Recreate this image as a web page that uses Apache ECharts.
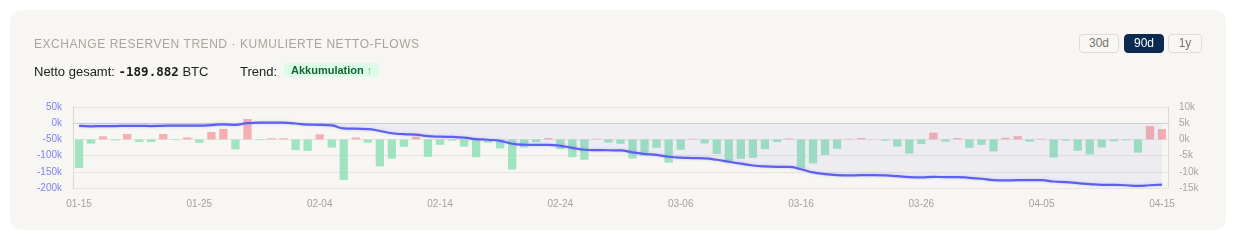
<!DOCTYPE html>
<html>
<head>
<meta charset="utf-8">
<script src="https://cdn.jsdelivr.net/npm/echarts@6/dist/echarts.min.js"></script>
<style>
  html, body { margin:0; padding:0; background:#ffffff; width:1236px; height:240px; overflow:hidden; }
  body { font-family: "Liberation Sans", Arial, sans-serif; position:relative; }
  #card { position:absolute; left:10px; top:10px; width:1216px; height:220px; background:#f7f6f2; border-radius:12px; }
  #chart { position:absolute; left:0; top:0; width:1236px; height:240px; }
  .t { position:absolute; white-space:nowrap; }
  #title { left:34px; top:37.5px; font-size:12px; line-height:13px; letter-spacing:0.55px; color:#a9a49d; }
  #netto { left:34px; top:65px; font-size:13px; line-height:13px; color:#222; }
  #netto b { font-family:"DejaVu Sans Mono", "Liberation Mono", monospace; font-size:12.5px; font-weight:bold; color:#1a1a1a; }
  #trend { left:240px; top:65px; font-size:13px; line-height:13px; color:#222; }
  #badge { left:284px; top:62.5px; height:14.5px; line-height:14.5px; padding:0 7px; font-size:11px; font-weight:bold; color:#166534; background:#dcfce7; border-radius:3px; }
  #badge span { color:#6fbf8a; font-weight:normal; }
  .btn { position:absolute; top:34px; height:19px; box-sizing:border-box; border:1px solid #dfdcd5; border-radius:4px; font-size:12px; line-height:17px; text-align:center; color:#77726c; background:#f8f7f4; }
  .btn.on { background:#0b2a50; border-color:#0b2a50; color:#ffffff; }
</style>
</head>
<body>
<div id="card"></div>
<div id="chart"></div>
<div class="t" id="title">EXCHANGE RESERVEN TREND · KUMULIERTE NETTO-FLOWS</div>
<div class="t" id="netto">Netto gesamt: <b>-189.882</b> BTC</div>
<div class="t" id="trend">Trend:</div>
<div class="t" id="badge">Akkumulation <span>↑</span></div>
<div class="btn" style="left:1079px;width:40px;">30d</div>
<div class="btn on" style="left:1124px;width:40px;">90d</div>
<div class="btn" style="left:1168px;width:34px;">1y</div>
<script>
// Categories (days)
const dates = [
  '01-15','01-16','01-17','01-18','01-19','01-20','01-21','01-22','01-23','01-24',
  '01-25','01-26','01-27','01-28','01-29','01-30','01-31','02-01','02-02','02-03',
  '02-04','02-05','02-06','02-07','02-08','02-09','02-10','02-11','02-12','02-13',
  '02-14','02-15','02-16','02-17','02-18','02-19','02-20','02-21','02-22','02-23',
  '02-24','02-25','02-26','02-27','02-28','03-01','03-02','03-03','03-04','03-05',
  '03-06','03-07','03-08','03-09','03-10','03-11','03-12','03-13','03-14','03-15',
  '03-16','03-17','03-18','03-19','03-20','03-21','03-22','03-23','03-24','03-25',
  '03-26','03-27','03-28','03-29','03-30','03-31','04-01','04-02','04-03','04-04',
  '04-05','04-06','04-07','04-08','04-09','04-10','04-11','04-12','04-13','04-14',
  '04-15'
];
// Daily net flows (k, right axis)
const dailyFlows = [
  -8.8, -1.3, 0.95, -0.3, 1.65, -0.8, -0.8, 1.65, -0.2, 0.6,
  -1.05, 2.3, 3.25, -3.1, 6.3, -0.25, 0.35, 0.35, -3.3, -3.55,
  1.6, -2.5, -12.5, 0.6, -1.0, -8.3, -5.9, -2.3, 0.85, -5.4,
  -1.7, -0.4, -2.2, -5.5, -1.0, -2.8, -9.3, -2.5, -0.8, 0.4,
  -3.0, -5.5, -6.3, 0.2, -1.0, -1.35, -5.9, -5.1, -2.6, -7.2,
  -3.2, 0.2, -1.25, -4.5, -6.9, -6.0, -5.7, -3.0, -0.8, 0.3,
  -9.0, -7.4, -4.8, -2.9, 0.2, 0.4, 0.1, -0.4, -2.2, -4.4,
  -1.45, 2.1, -0.7, 0.4, -2.6, -1.7, -3.7, 0.5, 1.0, -0.7,
  0.2, -5.6, -0.4, -3.5, -4.6, -2.5, -0.6, -0.3, -4.1, 4.1,
  3.2
];
// Cumulative net flow (k, left axis)
const cumulative = [
  -8.5, -9.5, -9.0, -9.0, -8.0, -8.0, -9.0, -8.0, -7.5, -7.5,
  -7.5, -6.0, -3.5, -5.0, 0.5, 1.5, 1.5, 1.5, -1.0, -4.5,
  -5.0, -7.0, -16.0, -17.0, -18.0, -24.0, -31.0, -34.0, -35.5, -40.0,
  -41.5, -42.5, -44.5, -49.0, -51.0, -54.5, -63.5, -66.5, -67.0, -67.0,
  -70.0, -76.0, -82.0, -83.0, -83.5, -84.0, -89.9, -95.0, -98.0, -103.5,
  -106.5, -107.5, -108.6, -112.7, -119.0, -125.0, -130.5, -133.5, -134.5, -134.5,
  -142.0, -152.0, -157.0, -160.0, -161.0, -160.5, -160.5, -161.0, -163.5, -166.5,
  -167.5, -165.5, -166.5, -166.5, -168.5, -171.5, -175.5, -176.5, -176.0, -176.0,
  -176.0, -180.0, -182.0, -185.0, -188.0, -190.2, -190.5, -191.5, -193.5, -191.5,
  -189.882
];
const leftTicks = { min: -200, max: 50, interval: 50 };
const rightTicks = { min: -15, max: 10, interval: 5 };

const FONT = '"Liberation Sans", Arial, sans-serif';
const chart = echarts.init(document.getElementById('chart'), null, { renderer: 'canvas' });
chart.setOption({
  animation: false,
  backgroundColor: 'transparent',
  grid: { left: 73, right: 68, top: 107, bottom: 52 },
  xAxis: {
    type: 'category',
    data: dates,
    boundaryGap: true,
    axisLine: { show: true, lineStyle: { color: '#d6d3cc' } },
    axisTick: { show: false },
    axisLabel: { interval: 9, color: '#a8a29e', fontSize: 10, fontFamily: FONT, margin: 11 },
    splitLine: { show: false }
  },
  yAxis: [
    {
      type: 'value', position: 'left',
      min: leftTicks.min, max: leftTicks.max, interval: leftTicks.interval,
      axisLine: { show: true, lineStyle: { color: '#dcd9d2' } },
      axisTick: { show: false },
      axisLabel: { formatter: '{value}k', color: '#7f83f3', fontSize: 10, fontFamily: FONT, margin: 11 },
      splitLine: { show: true, lineStyle: { color: '#e8e5df', width: 1 } }
    },
    {
      type: 'value', position: 'right',
      min: rightTicks.min, max: rightTicks.max, interval: rightTicks.interval,
      axisLine: { show: true, lineStyle: { color: '#dcd9d2' } },
      axisTick: { show: false },
      axisLabel: { formatter: '{value}k', color: '#aaa59f', fontSize: 10, fontFamily: FONT, margin: 11 },
      splitLine: { show: false }
    }
  ],
  series: [
    {
      type: 'bar',
      yAxisIndex: 1,
      data: dailyFlows,
      barCategoryGap: '31%',
      itemStyle: {
        color: function (p) { return p.value >= 0 ? '#f4b0b1' : '#a0e3c1'; }
      }
    },
    {
      type: 'line',
      yAxisIndex: 0,
      data: cumulative,
      smooth: true,
      showSymbol: false,
      lineStyle: { color: '#5c5ff0', width: 2.2, shadowColor: 'rgba(99,102,241,0.3)', shadowBlur: 3 },
      areaStyle: { color: 'rgba(99,102,241,0.09)' }
    }
  ]
});
</script>
</body>
</html>
